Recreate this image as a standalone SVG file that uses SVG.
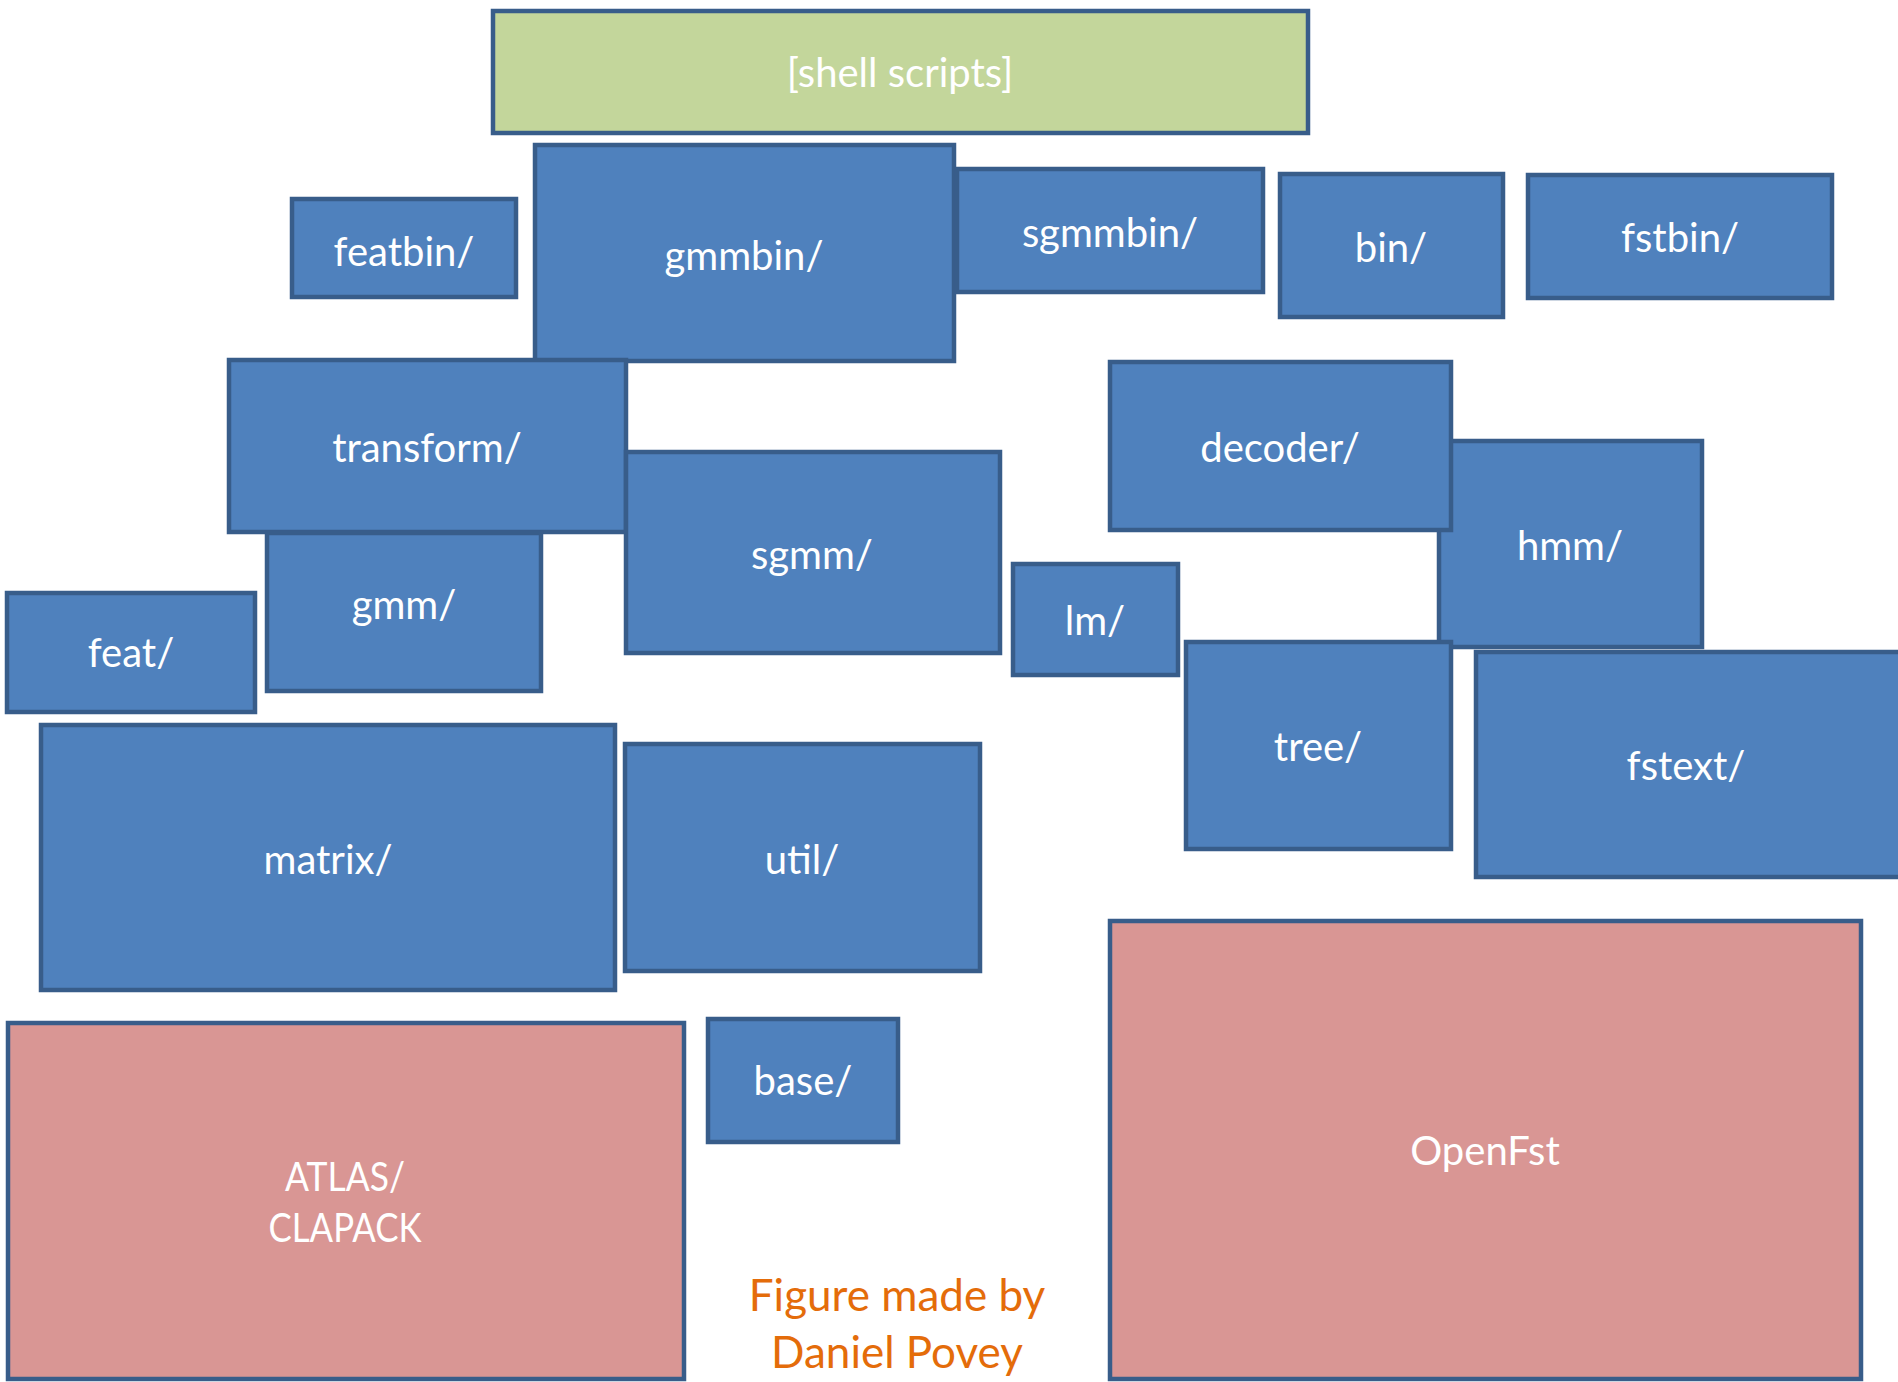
<svg xmlns="http://www.w3.org/2000/svg" width="1898" height="1382" viewBox="0 0 1898 1382">
<style>
rect{stroke:#385D8A;stroke-width:4.5}
.b{fill:#4F81BD}
.g{fill:#C3D69B}
.p{fill:#D99694}
text{font-family:Lato,"Open Sans","Liberation Sans",sans-serif;font-size:40px;fill:#FFFFFF;text-anchor:middle}
.o{fill:#E46C0A;font-size:44px}
</style>
<rect width="1898" height="1382" fill="#FFFFFF" style="stroke:none"/>
<g id="shell"><rect class="g" x="493" y="11" width="815" height="122"/><text x="900" y="87">[shell scripts]</text></g>
<g id="gmmbin"><rect class="b" x="535" y="145" width="419" height="216"/><text x="744" y="270">gmmbin/</text></g>
<g id="featbin"><rect class="b" x="292" y="199" width="224" height="98"/><text x="404" y="266">featbin/</text></g>
<g id="sgmmbin"><rect class="b" x="957" y="169" width="306" height="123"/><text x="1110" y="247">sgmmbin/</text></g>
<g id="bin"><rect class="b" x="1280" y="174" width="223" height="143"/><text x="1391" y="262">bin/</text></g>
<g id="fstbin"><rect class="b" x="1528" y="175" width="304" height="123"/><text x="1680" y="252">fstbin/</text></g>
<g id="transform"><rect class="b" x="229" y="360" width="397" height="172"/><text x="427" y="462">transform/</text></g>
<g id="gmm"><rect class="b" x="267" y="533" width="274" height="158"/><text x="404" y="619">gmm/</text></g>
<g id="sgmm"><rect class="b" x="626" y="452" width="374" height="201"/><text x="812" y="569">sgmm/</text></g>
<g id="feat"><rect class="b" x="7" y="593" width="248" height="119"/><text x="131" y="667">feat/</text></g>
<g id="hmm"><rect class="b" x="1439" y="441" width="263" height="206"/><text x="1570" y="560">hmm/</text></g>
<g id="decoder"><rect class="b" x="1110" y="362" width="341" height="168"/><text x="1280" y="462">decoder/</text></g>
<g id="lm"><rect class="b" x="1013" y="564" width="165" height="111"/><text x="1095" y="635">lm/</text></g>
<g id="tree"><rect class="b" x="1186" y="642" width="265" height="207"/><text x="1318" y="761">tree/</text></g>
<g id="fstext"><rect class="b" x="1476" y="652" width="430" height="225"/><text x="1686" y="780">fstext/</text></g>
<g id="matrix"><rect class="b" x="41" y="725" width="574" height="265"/><text x="328" y="874">matrix/</text></g>
<g id="util"><rect class="b" x="625" y="744" width="355" height="227"/><text x="802" y="874">util/</text></g>
<g id="base"><rect class="b" x="708" y="1019" width="190" height="123"/><text x="803" y="1095">base/</text></g>
<g id="atlas"><rect class="p" x="8" y="1023" width="676" height="356"/><text x="345" y="1191" textLength="120" lengthAdjust="spacingAndGlyphs">ATLAS/</text><text x="345" y="1242" textLength="153" lengthAdjust="spacingAndGlyphs">CLAPACK</text></g>
<g id="openfst"><rect class="p" x="1110" y="921" width="751" height="458"/><text x="1485" y="1165">OpenFst</text></g>
<g id="credit"><text class="o" x="897" y="1311">Figure made by</text><text class="o" x="897" y="1368">Daniel Povey</text></g>
<g id="connectors"></g>
</svg>
